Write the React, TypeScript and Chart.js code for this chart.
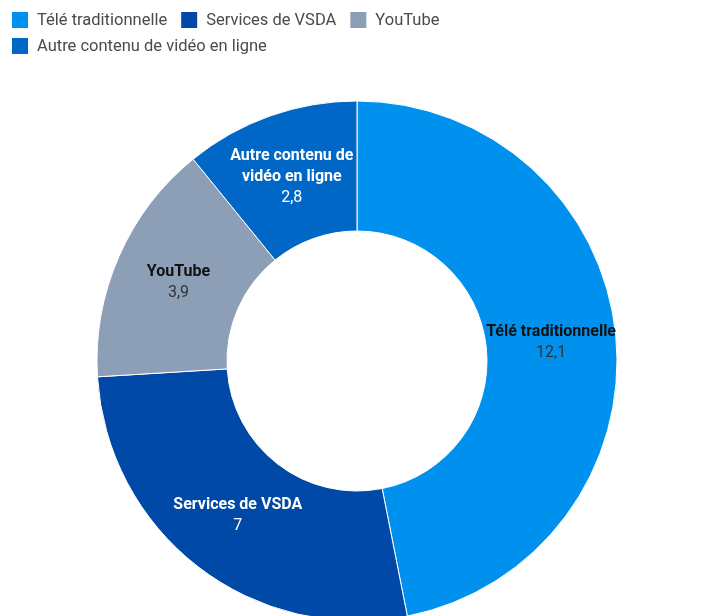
import React, { useEffect, useRef } from "react";
import { Chart, registerables } from "chart.js";

Chart.register(...registerables);

const categories = [
  "Télé traditionnelle",
  "Services de VSDA",
  "YouTube",
  "Autre contenu de vidéo en ligne",
];
const sliceLabelLines = [
  ["Télé traditionnelle"],
  ["Services de VSDA"],
  ["YouTube"],
  ["Autre contenu de", "vidéo en ligne"],
];
const values = [12.1, 7, 3.9, 2.8];
const valueLabels = ["12,1", "7", "3,9", "2,8"];
const colors = ["#0091ee", "#0049a6", "#8c9fb6", "#0067c7"];
const labelColors = ["#111111", "#ffffff", "#111111", "#ffffff"];
const valueColors = ["#333333", "#ffffff", "#333333", "#ffffff"];

const sliceLabelPlugin = {
  id: "sliceLabels",
  afterDatasetsDraw(chart: any) {
    const ctx = chart.ctx;
    const meta = chart.getDatasetMeta(0);
    meta.data.forEach((arc: any, i: number) => {
      const { x, y, startAngle, endAngle, innerRadius, outerRadius } = arc.getProps(
        ["x", "y", "startAngle", "endAngle", "innerRadius", "outerRadius"],
        true
      );
      const mid = (startAngle + endAngle) / 2;
      const r = (innerRadius + outerRadius) / 2;
      const cx = x + Math.cos(mid) * r;
      const cy = y + Math.sin(mid) * r;
      const lines = sliceLabelLines[i];
      const lh = 21;
      const total = lines.length + 1;
      const top = cy - ((total - 1) * lh) / 2;
      ctx.save();
      ctx.textAlign = "center";
      ctx.textBaseline = "middle";
      lines.forEach((ln, j) => {
        ctx.font = "bold 16px Roboto";
        ctx.fillStyle = labelColors[i];
        ctx.fillText(ln, cx, top + j * lh);
      });
      ctx.font = "16px Roboto";
      ctx.fillStyle = valueColors[i];
      ctx.fillText(valueLabels[i], cx, top + lines.length * lh);
      ctx.restore();
    });
  },
};

// Legend drawn with the chart's own generated legend items, laid out to wrap like the reference
const legendPlugin = {
  id: "flowLegend",
  afterDraw(chart: any) {
    const ctx = chart.ctx;
    const items = chart.options.plugins.legend.labels.generateLabels(chart);
    const startX = 12;
    const maxX = chart.width - 12;
    const box = 16;
    const textGap = 9;
    const itemGap = 14;
    const rowPitch = 26;
    let x = startX;
    let yc = 20;
    ctx.save();
    ctx.font = "16.5px Roboto";
    ctx.textBaseline = "middle";
    ctx.textAlign = "left";
    items.forEach((it: any) => {
      const w = box + textGap + ctx.measureText(it.text).width;
      if (x > startX && x + w > maxX) {
        x = startX;
        yc += rowPitch;
      }
      ctx.fillStyle = it.fillStyle;
      ctx.fillRect(x, yc - box / 2, box, box);
      ctx.fillStyle = "#4a4a4a";
      ctx.fillText(it.text, x + box + textGap, yc + 1);
      x += w + itemGap;
    });
    ctx.restore();
  },
};

export default function App() {
  const ref = useRef<HTMLCanvasElement | null>(null);
  useEffect(() => {
    if (!ref.current) return;
    const chart = new Chart(ref.current, {
      type: "doughnut",
      data: {
        labels: categories,
        datasets: [
          {
            data: values,
            backgroundColor: colors,
            borderColor: "#ffffff",
            borderWidth: 1,
          },
        ],
      },
      options: {
        responsive: false,
        animation: false,
        radius: 260,
        cutout: "50%",
        layout: { padding: { left: 12, top: 64, right: 0, bottom: 0 } },
        plugins: {
          legend: { display: false },
          tooltip: { enabled: false },
        },
      },
      plugins: [sliceLabelPlugin, legendPlugin],
    });
    return () => chart.destroy();
  }, []);
  return (
    <div
      style={{
        position: "absolute",
        left: 0,
        top: 0,
        width: 702,
        height: 616,
        overflow: "hidden",
        background: "#ffffff",
      }}
    >
      <canvas ref={ref} width={702} height={658} style={{ display: "block" }} />
    </div>
  );
}
